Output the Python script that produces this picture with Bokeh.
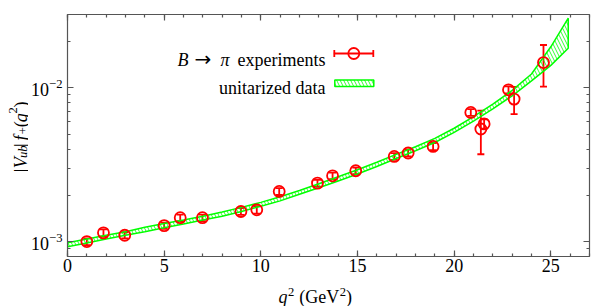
import math
from bokeh.plotting import figure
from bokeh.layouts import row, column
from bokeh.models import (Range1d, LinearScale, LinearAxis, LogAxis, FixedTicker,
                          LogTickFormatter, CustomJSTickFormatter, Label, Whisker,
                          TeeHead, ColumnDataSource)
from bokeh.embed import file_html
from bokeh.resources import INLINE

# ---------------- data ----------------
q2_exp = [1.00, 1.86, 2.96, 5.00, 5.83, 6.98, 8.97, 9.79, 10.95, 12.93, 13.71,
          14.91, 16.90, 17.62, 18.91, 20.86, 21.38, 21.55, 22.81, 23.10, 24.62]
f_exp = [0.00100, 0.00114, 0.00110, 0.00127, 0.00143, 0.00143, 0.00157, 0.00161,
         0.00212, 0.00240, 0.00268, 0.00289, 0.00358, 0.00377, 0.00416, 0.00692,
         0.00540, 0.00583, 0.00971, 0.00845, 0.01460]
f_err = [0.00005, 0.00006, 0.00005, 0.00006, 0.00007, 0.00007, 0.00008, 0.00009,
         0.00011, 0.00012, 0.00013, 0.00014, 0.00018, 0.00019, 0.00022, 0.00035,
         0.00170, 0.00040, 0.00050, 0.00170, 0.00440]

band_q2 = [0, 1, 2, 3, 4, 5, 6, 7, 8, 9, 10, 11, 12, 13, 14, 15, 16, 17, 18, 19,
           20, 21, 22, 23, 24, 25, 25.9]
band_lo = [0.000926, 0.000980, 0.00104, 0.00110, 0.00116, 0.00123, 0.00130, 0.00138,
           0.00146, 0.00157, 0.00170, 0.00184, 0.00203, 0.00224, 0.00248, 0.00275,
           0.00308, 0.00347, 0.00390, 0.00441, 0.00514, 0.00607, 0.00730, 0.00888,
           0.0111, 0.0140, 0.0181]
band_hi = [0.000984, 0.00104, 0.00110, 0.00116, 0.00124, 0.00131, 0.00138, 0.00146,
           0.00156, 0.00167, 0.00180, 0.00196, 0.00215, 0.00238, 0.00264, 0.00293,
           0.00328, 0.00369, 0.00414, 0.00469, 0.00546, 0.00649, 0.00784, 0.00962,
           0.0123, 0.0185, 0.0284]

x_major = [0, 5, 10, 15, 20, 25]
x_minor = list(range(0, 28))
y_major = [0.001, 0.01]
y_minor = [0.0008, 0.0009, 0.002, 0.003, 0.004, 0.005, 0.006, 0.007, 0.008, 0.009,
           0.02, 0.03]

legend_labels = ["experiments", "unitarized data"]

# ---------------- styling / layout constants ----------------
RED = "#ff0000"
GREEN = "#00ff00"
AXC = "#555555"
FONT = "Liberation Serif"
YW = 28            # width of the strip holding the y title
XH = 27            # height of the strip holding the x title
BL, BT = 67 - YW, 14
FW, FH = 522, 242
W, H = 612 - YW, 279
BR, BB = W - BL - FW, H - BT - FH

p = figure(x_range=Range1d(0, 27), y_range=Range1d(0.0008, 0.03), y_axis_type="log",
           width=W, height=H, title=None,
           min_border_left=BL, min_border_right=BR, min_border_top=BT, min_border_bottom=BB,
           output_backend="svg", toolbar_location=None,
           background_fill_color="white", border_fill_color="white")
p.outline_line_color = None
p.xgrid.grid_line_color = None
p.ygrid.grid_line_color = None

p.extra_x_ranges = {"px": Range1d(0, FW)}
p.extra_y_ranges = {"px": Range1d(0, FH)}
p.extra_x_scales = {"px": LinearScale()}
p.extra_y_scales = {"px": LinearScale()}


def style_axis(ax, show_labels):
    ax.axis_line_color = AXC
    ax.axis_line_width = 1.2
    ax.major_tick_line_color = AXC
    ax.minor_tick_line_color = AXC
    ax.major_tick_line_width = 1.2
    ax.minor_tick_line_width = 1.2
    ax.major_tick_in = 6
    ax.major_tick_out = 0
    ax.minor_tick_in = 3
    ax.minor_tick_out = 0
    ax.major_label_text_font = FONT
    ax.major_label_text_color = "black"
    if show_labels:
        ax.major_label_text_font_size = "18px"
    else:
        ax.major_label_text_font_size = "0px"
        ax.major_label_standoff = 0
        ax.formatter = CustomJSTickFormatter(code="return ''")


p.xaxis.ticker = FixedTicker(ticks=x_major, minor_ticks=x_minor)
p.yaxis.ticker = FixedTicker(ticks=y_major, minor_ticks=y_minor)
p.yaxis.formatter = LogTickFormatter()
style_axis(p.xaxis[0], True)
style_axis(p.yaxis[0], True)
p.xaxis.major_label_standoff = 2
p.yaxis.major_label_standoff = 5

top = LinearAxis(ticker=FixedTicker(ticks=x_major, minor_ticks=x_minor))
style_axis(top, False)
p.add_layout(top, "above")
right = LogAxis(ticker=FixedTicker(ticks=y_major, minor_ticks=y_minor))
style_axis(right, False)
p.add_layout(right, "right")

# ---------------- unitarized band ----------------
p.patch(x=band_q2 + band_q2[::-1], y=band_hi + band_lo[::-1],
        fill_color=None, hatch_pattern="\\", hatch_color=GREEN, hatch_scale=7,
        hatch_weight=0.8, line_color=GREEN, line_width=1.5)

# ---------------- experiments ----------------
src = ColumnDataSource(data=dict(
    x=q2_exp, y=f_exp,
    lower=[v - e for v, e in zip(f_exp, f_err)],
    upper=[v + e for v, e in zip(f_exp, f_err)]))
wh = Whisker(base="x", lower="lower", upper="upper", source=src,
             line_color=RED, line_width=1.8,
             upper_head=TeeHead(size=7, line_color=RED, line_width=1.8),
             lower_head=TeeHead(size=7, line_color=RED, line_width=1.8))
p.add_layout(wh)
p.scatter("x", "y", source=src, marker="circle", size=11, fill_color=None,
          line_color=RED, line_width=1.8)

# ---------------- legend (frame-pixel coordinates) ----------------
PX = dict(x_range_name="px", y_range_name="px")
p.segment(x0=[266.3], y0=[203], x1=[306.3], y1=[203], line_color=RED, line_width=1.8, **PX)
p.segment(x0=[266.8, 305.8], y0=[199.5, 199.5], x1=[266.8, 305.8], y1=[206.5, 206.5],
          line_color=RED, line_width=1.8, **PX)
p.scatter(x=[286.3], y=[203], marker="circle", size=11, fill_color=None,
          line_color=RED, line_width=1.8, **PX)
p.quad(left=[267.3], right=[306.3], bottom=[170], top=[176.5], fill_color=None,
       hatch_pattern="\\", hatch_color=GREEN, hatch_scale=7, hatch_weight=0.8,
       line_color=GREEN, line_width=1.5, **PX)


def lab(fig, x, y, text, size=18, style="normal", align="left", angle=0.0, font=FONT,
        **kw):
    fig.add_layout(Label(x=x, y=y, text=text, text_font=font, text_font_size=f"{size}px",
                         text_font_style=style, text_align=align,
                         text_baseline="alphabetic", text_color="black",
                         angle=angle, **kw))


lab(p, 110, 196.7, "B", style="italic", **PX)
lab(p, 127, 197.5, "→", size=20, font="DejaVu Sans", **PX)
lab(p, 153, 196.7, "π", style="italic", **PX)
lab(p, 258, 196.7, legend_labels[0], align="right", **PX)
lab(p, 258, 168.7, legend_labels[1], align="right", **PX)


def strip(w, h):
    f = figure(width=w, height=h, x_range=Range1d(0, w), y_range=Range1d(0, h),
               title=None, min_border=0, x_axis_location=None, y_axis_location=None,
               output_backend="svg", toolbar_location=None,
               background_fill_color="white", border_fill_color="white")
    f.outline_line_color = None
    f.xgrid.visible = False
    f.ygrid.visible = False
    return f


# y-axis title: |V_ub| f_+(q^2)   (strip coords: x = page x, y up from strip bottom)
yfig = strip(YW, H)
A = math.pi / 2
yb = 20.8
s = 97
lab(yfig, yb, s + 0, "|", angle=A)
lab(yfig, yb, s + 4.6, "V", style="italic", angle=A)
lab(yfig, yb + 1.3, s + 16.6, "ub", size=12.6, style="italic", angle=A)
lab(yfig, yb, s + 29.2, "|", angle=A)
lab(yfig, yb, s + 36.8, "f", style="italic", angle=A)
lab(yfig, yb + 1.3, s + 43.8, "+", size=12.6, angle=A)
lab(yfig, yb, s + 51.9, "(", angle=A)
lab(yfig, yb, s + 57.9, "q", style="italic", angle=A)
lab(yfig, yb - 8, s + 67.9, "2", size=12.6, angle=A)
lab(yfig, yb, s + 74.7, ")", angle=A)

# x-axis title: q^2 (GeV^2)
xfig = strip(612, XH)
xb = 10
x0 = 278
lab(xfig, x0, xb, "q", style="italic")
lab(xfig, x0 + 9.5, xb + 5, "2", size=12.6)
lab(xfig, x0 + 20.8, xb, "(GeV")
lab(xfig, x0 + 61.3, xb + 5, "2", size=12.6)
lab(xfig, x0 + 67.6, xb, ")")

layout = column(row(yfig, p), xfig)
open("out.html", "w").write(file_html(layout, INLINE))
